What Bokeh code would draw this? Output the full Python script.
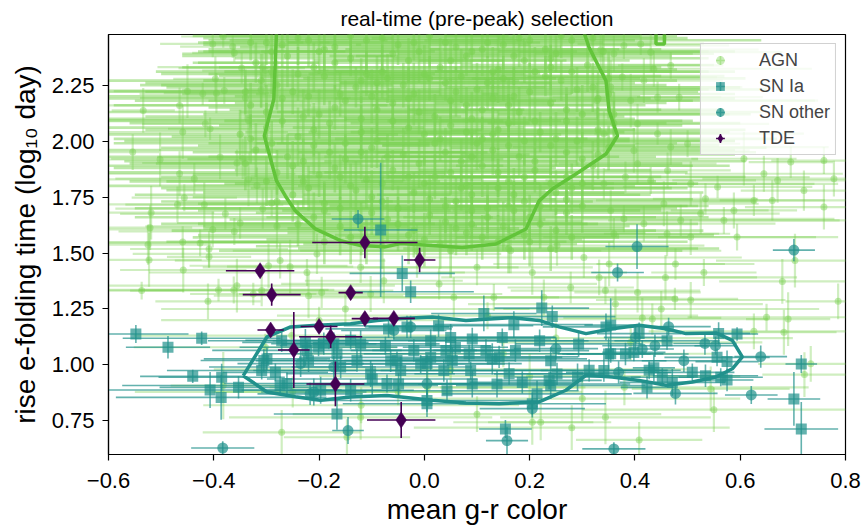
from bokeh.plotting import figure
from bokeh.models import (ColumnDataSource, FixedTicker, CustomJSTickFormatter,
                          Legend, LegendItem, Range1d)
from bokeh.embed import file_html
from bokeh.resources import INLINE

FONT = "Liberation Sans"
AGN_C = "#7ad151"
AGN_LINE_C = "#62c43a"
SN_C = "#21918c"
TDE_C = "#440154"

x_ticks = [-0.6, -0.4, -0.2, 0.0, 0.2, 0.4, 0.6, 0.8]
y_ticks = [0.75, 1.00, 1.25, 1.50, 1.75, 2.00, 2.25]

# ---------------- AGN: dense core ----------------
agn_core_x = [
    -0.30, -0.24, -0.17, -0.11, -0.05, 0.01, 0.06, 0.12, 0.18, 0.23, 0.28, -0.20, 0.09,
    -0.32, -0.26, -0.21, -0.14, -0.08, -0.03, 0.03, 0.08, 0.14, 0.19, 0.25, 0.31, -0.11, 0.21,
    -0.31, -0.25, -0.19, -0.13, -0.07, -0.02, 0.04, 0.10, 0.15, 0.20, 0.26, 0.32, -0.04, 0.07, -0.22,
    -0.33, -0.27, -0.20, -0.15, -0.09, -0.03, 0.02, 0.08, 0.13, 0.18, 0.24, 0.30, -0.12, 0.11, 0.33,
    -0.30, -0.24, -0.18, -0.12, -0.06, 0.00, 0.05, 0.11, 0.16, 0.22, 0.27, 0.33, -0.09, 0.19, -0.27,
    -0.32, -0.26, -0.21, -0.15, -0.10, -0.04, 0.02, 0.07, 0.13, 0.18, 0.24, 0.30, 0.35, -0.01, 0.10,
    -0.28, -0.23, -0.17, -0.11, -0.06, 0.00, 0.05, 0.11, 0.16, 0.21, 0.27, 0.32, -0.14, 0.08,
    -0.25, -0.19, -0.13, -0.08, -0.02, 0.04, 0.09, 0.14, 0.19, 0.25, 0.30, -0.05, 0.12,
    -0.21, -0.16, -0.10, -0.05, 0.01, 0.06, 0.12, 0.17, 0.22, 0.27, -0.02,
    -0.14, -0.08, -0.03, 0.03, 0.08, 0.14, 0.19, 0.24, 0.05,
    -0.27, -0.14, -0.02, 0.15, 0.26,
    -0.29, -0.17, -0.06, 0.05, 0.17, 0.28,
    -0.28, -0.16, -0.09, 0.01, 0.12, 0.23, 0.35,
    -0.30, -0.17, -0.06, 0.05, 0.16, 0.27,
    -0.33, -0.21, -0.03, 0.08, 0.14, 0.25, 0.36,
    -0.29, -0.18, -0.07, 0.04, 0.16, 0.21, 0.33,
    -0.25, -0.20, -0.08, 0.02, 0.14, 0.24,
    -0.22, -0.10, 0.01, 0.07, 0.17, 0.22, 0.28,
    -0.19, -0.07, 0.04, 0.09, 0.20,
    -0.11, 0.00, 0.11, 0.16,
    -0.22, -0.08, 0.04, 0.20, 0.32, -0.33,
    -0.29, -0.19, -0.01, 0.11, 0.24, 0.34,
    -0.24, -0.12, 0.00, 0.13, 0.24, 0.35,
    -0.34, -0.10, 0.06, 0.17, 0.29,
    -0.23, -0.01, 0.09, 0.21, 0.36,
    -0.35, -0.15, 0.03, 0.13, 0.29,
    -0.23, -0.12, 0.09, 0.27, -0.34,
    -0.30, -0.03, 0.19, 0.30, -0.16,
    -0.28, -0.16, 0.06, 0.16, 0.27,
    -0.24, -0.12, 0.15, 0.25, 0.09,
    -0.19, 0.20, 0.28,
]
agn_core_y = [
    2.44, 2.46, 2.42, 2.45, 2.43, 2.47, 2.42, 2.44, 2.46, 2.41, 2.45, 2.40, 2.40,
    2.35, 2.38, 2.33, 2.37, 2.31, 2.36, 2.33, 2.38, 2.32, 2.36, 2.39, 2.34, 2.30, 2.31,
    2.27, 2.22, 2.29, 2.24, 2.28, 2.21, 2.26, 2.23, 2.28, 2.22, 2.27, 2.24, 2.25, 2.29, 2.20,
    2.16, 2.19, 2.12, 2.18, 2.14, 2.19, 2.11, 2.16, 2.19, 2.13, 2.17, 2.12, 2.10, 2.14, 2.19,
    2.06, 2.02, 2.08, 2.04, 2.09, 2.03, 2.07, 2.01, 2.08, 2.04, 2.09, 2.05, 2.00, 2.00, 2.09,
    1.96, 1.93, 1.98, 1.92, 1.97, 1.94, 1.99, 1.91, 1.96, 1.93, 1.98, 1.92, 1.97, 1.90, 1.99,
    1.86, 1.82, 1.88, 1.83, 1.87, 1.81, 1.86, 1.89, 1.82, 1.87, 1.84, 1.89, 1.80, 1.80,
    1.76, 1.72, 1.78, 1.73, 1.77, 1.71, 1.76, 1.79, 1.73, 1.77, 1.71, 1.70, 1.70,
    1.66, 1.62, 1.68, 1.63, 1.67, 1.61, 1.66, 1.69, 1.63, 1.68, 1.60,
    1.57, 1.53, 1.58, 1.54, 1.59, 1.55, 1.58, 1.52, 1.51,
    2.43, 2.47, 2.44, 2.43, 2.47,
    2.31, 2.35, 2.39, 2.36, 2.38, 2.31,
    2.25, 2.21, 2.26, 2.28, 2.26, 2.29, 2.21,
    2.13, 2.15, 2.17, 2.18, 2.16, 2.14,
    2.01, 2.05, 2.06, 2.04, 2.05, 2.01, 2.08,
    1.99, 1.95, 1.93, 1.95, 1.98, 1.91, 1.94,
    1.89, 1.85, 1.81, 1.84, 1.86, 1.81,
    1.79, 1.75, 1.74, 1.79, 1.76, 1.71, 1.79,
    1.69, 1.65, 1.64, 1.69, 1.66,
    1.55, 1.56, 1.57, 1.52,
    2.45, 2.46, 2.44, 2.45, 2.46, 2.44,
    2.40, 2.41, 2.40, 2.41, 2.37, 2.40,
    2.30, 2.27, 2.30, 2.31, 2.33, 2.28,
    2.22, 2.20, 2.22, 2.20, 2.23,
    2.11, 2.13, 2.10, 2.09, 2.12,
    2.03, 1.99, 2.01, 2.03, 2.00,
    1.91, 1.95, 1.93, 1.95, 1.90,
    1.82, 1.84, 1.84, 1.81, 1.84,
    1.73, 1.70, 1.73, 1.71, 1.74,
    1.63, 1.61, 1.62, 1.60, 1.63,
    1.55, 1.55, 1.57,
]
agn_core_xerr = [
    0.12, 0.18, 0.18, 0.30, 0.25, 0.40, 0.20, 0.32, 0.28, 0.22, 0.36, 0.22, 0.50,
    0.12, 0.20, 0.25, 0.22, 0.30, 0.18, 0.42, 0.26, 0.34, 0.20, 0.30, 0.24, 0.30, 0.38,
    0.32, 0.28, 0.20, 0.36, 0.24, 0.30, 0.20, 0.44, 0.26, 0.32, 0.22, 0.28, 0.50, 0.38, 0.42,
    0.26, 0.34, 0.22, 0.40, 0.28, 0.20, 0.36, 0.24, 0.30, 0.46, 0.22, 0.32, 0.52, 0.34, 0.26,
    0.30, 0.24, 0.38, 0.22, 0.32, 0.26, 0.44, 0.20, 0.30, 0.36, 0.24, 0.28, 0.48, 0.40, 0.42,
    0.28, 0.36, 0.22, 0.30, 0.40, 0.24, 0.34, 0.22, 0.46, 0.26, 0.32, 0.22, 0.30, 0.50, 0.38,
    0.32, 0.26, 0.42, 0.22, 0.30, 0.36, 0.24, 0.40, 0.28, 0.22, 0.34, 0.26, 0.46, 0.32,
    0.30, 0.24, 0.36, 0.22, 0.40, 0.26, 0.32, 0.22, 0.44, 0.28, 0.24, 0.50, 0.36,
    0.34, 0.26, 0.22, 0.38, 0.24, 0.32, 0.42, 0.24, 0.30, 0.26, 0.46,
    0.30, 0.24, 0.40, 0.26, 0.34, 0.22, 0.36, 0.28, 0.44,
    0.15, 0.30, 0.24, 0.28, 0.22,
    0.22, 0.26, 0.40, 0.22, 0.30, 0.26,
    0.22, 0.30, 0.44, 0.24, 0.28, 0.34, 0.24,
    0.38, 0.24, 0.30, 0.46, 0.26, 0.30,
    0.26, 0.32, 0.22, 0.30, 0.26, 0.42, 0.24,
    0.30, 0.26, 0.34, 0.28, 0.24, 0.40, 0.26,
    0.40, 0.24, 0.30, 0.26, 0.36, 0.24,
    0.28, 0.34, 0.24, 0.40, 0.26, 0.30, 0.22,
    0.24, 0.30, 0.26, 0.36, 0.24,
    0.38, 0.30, 0.26, 0.40,
    0.15, 0.25, 0.30, 0.20, 0.18, 0.10,
    0.14, 0.22, 0.30, 0.26, 0.30, 0.20,
    0.26, 0.30, 0.22, 0.34, 0.20, 0.26,
    0.28, 0.26, 0.30, 0.24, 0.36,
    0.30, 0.34, 0.24, 0.28, 0.22,
    0.30, 0.26, 0.36, 0.22, 0.30,
    0.34, 0.24, 0.28, 0.36, 0.22,
    0.26, 0.30, 0.26, 0.22, 0.34,
    0.22, 0.30, 0.26, 0.34, 0.24,
    0.26, 0.30, 0.24, 0.28, 0.22,
    0.24, 0.30, 0.22,
]
agn_core_yerr = [
    0.10, 0.12, 0.08, 0.15, 0.09, 0.14, 0.11, 0.07, 0.13, 0.10, 0.12, 0.10, 0.09,
    0.09, 0.14, 0.11, 0.08, 0.12, 0.10, 0.13, 0.09, 0.15, 0.10, 0.08, 0.12, 0.10, 0.11,
    0.12, 0.10, 0.13, 0.09, 0.11, 0.14, 0.08, 0.12, 0.10, 0.13, 0.09, 0.11, 0.10, 0.12, 0.09,
    0.10, 0.13, 0.11, 0.09, 0.12, 0.14, 0.10, 0.08, 0.12, 0.11, 0.10, 0.13, 0.10, 0.09, 0.12,
    0.11, 0.13, 0.10, 0.12, 0.09, 0.14, 0.11, 0.10, 0.13, 0.09, 0.12, 0.10, 0.12, 0.11, 0.10,
    0.12, 0.10, 0.13, 0.11, 0.09, 0.12, 0.14, 0.10, 0.11, 0.09, 0.13, 0.12, 0.10, 0.11, 0.12,
    0.10, 0.12, 0.11, 0.13, 0.09, 0.12, 0.10, 0.14, 0.11, 0.10, 0.12, 0.11, 0.10, 0.12,
    0.12, 0.10, 0.13, 0.11, 0.09, 0.12, 0.10, 0.13, 0.11, 0.10, 0.12, 0.10, 0.11,
    0.11, 0.13, 0.10, 0.12, 0.09, 0.12, 0.10, 0.13, 0.11, 0.10, 0.12,
    0.12, 0.10, 0.13, 0.11, 0.10, 0.12, 0.11, 0.10, 0.12,
    0.10, 0.12, 0.08, 0.11, 0.10,
    0.10, 0.12, 0.11, 0.09, 0.13, 0.10,
    0.11, 0.10, 0.12, 0.10, 0.12, 0.09, 0.11,
    0.12, 0.10, 0.11, 0.10, 0.12, 0.10,
    0.11, 0.12, 0.10, 0.12, 0.09, 0.12, 0.10,
    0.10, 0.12, 0.10, 0.11, 0.13, 0.10, 0.11,
    0.11, 0.10, 0.12, 0.10, 0.11, 0.12,
    0.10, 0.12, 0.11, 0.10, 0.12, 0.10, 0.11,
    0.12, 0.10, 0.11, 0.12, 0.10,
    0.10, 0.12, 0.10, 0.11,
    0.12, 0.15, 0.10, 0.12, 0.10, 0.08,
    0.12, 0.10, 0.14, 0.12, 0.10, 0.12,
    0.12, 0.10, 0.13, 0.11, 0.10, 0.12,
    0.10, 0.12, 0.11, 0.13, 0.10,
    0.12, 0.10, 0.12, 0.11, 0.10,
    0.11, 0.12, 0.10, 0.12, 0.11,
    0.10, 0.12, 0.11, 0.10, 0.12,
    0.11, 0.12, 0.10, 0.11, 0.10,
    0.12, 0.10, 0.11, 0.12, 0.10,
    0.10, 0.12, 0.11, 0.10, 0.12,
    0.10, 0.11, 0.10,
]

# ---------------- AGN: sparse left side ----------------
agn_left_x = [-0.382, -0.402, -0.364, -0.361, -0.347, -0.307, -0.302, -0.397, -0.450, -0.421,
              -0.395, -0.380, -0.340, -0.310, -0.534, -0.465, -0.416, -0.407, -0.459, -0.334,
              -0.554, -0.502, -0.388, -0.356, -0.345, -0.465, -0.437, -0.334, -0.318, -0.456,
              -0.469, -0.418, -0.378, -0.519, -0.307, -0.290, -0.521, -0.402, -0.361, -0.350,
              -0.280, -0.459, -0.525, -0.523, -0.426, -0.409, -0.409, -0.458, -0.537, -0.411,
              -0.391, -0.362, -0.356, -0.325, -0.309, -0.296, -0.274, -0.255, -0.223, -0.220,
              -0.195, -0.204, -0.382, -0.271, -0.147, -0.302, -0.252]
agn_left_y = [2.467, 2.434, 2.422, 2.394, 2.326, 2.330, 2.315, 2.278, 2.223, 2.211,
              2.214, 2.226, 2.193, 2.229, 2.137, 2.159, 2.077, 2.055, 2.040, 2.092,
              1.951, 1.918, 1.929, 1.902, 1.921, 1.854, 1.832, 1.829, 1.802, 1.747,
              1.717, 1.716, 1.675, 1.680, 1.698, 1.723, 1.613, 1.605, 1.596, 1.634,
              1.619, 1.549, 1.537, 1.469, 1.545, 1.518, 1.483, 1.424, 1.332, 1.284,
              1.335, 1.335, 1.354, 1.317, 1.332, 1.443, 1.466, 1.439, 1.413, 1.309,
              1.324, 1.496, 0.908, 0.699, 0.677, 1.079, 1.131]
agn_left_xerr = [0.08, 0.10, 0.10, 0.08, 0.12, 0.20, 0.12, 0.08, 0.14, 0.12,
                 0.10, 0.22, 0.20, 0.15, 0.06, 0.25, 0.12, 0.08, 0.20, 0.35,
                 0.05, 0.20, 0.12, 0.18, 0.25, 0.22, 0.15, 0.30, 0.12, 0.10,
                 0.35, 0.15, 0.20, 0.12, 0.28, 0.18, 0.08, 0.30, 0.22, 0.12,
                 0.25, 0.18, 0.12, 0.10, 0.22, 0.15, 0.08, 0.12, 0.08, 0.10,
                 0.22, 0.18, 0.30, 0.12, 0.25, 0.15, 0.20, 0.12, 0.30, 0.18,
                 0.12, 0.35, 0.10, 0.15, 0.12, 0.25, 0.30]
agn_left_yerr = [0.05, 0.06, 0.05, 0.04, 0.07, 0.06, 0.08, 0.10, 0.12, 0.05,
                 0.09, 0.06, 0.10, 0.08, 0.10, 0.08, 0.06, 0.05, 0.12, 0.07,
                 0.08, 0.12, 0.10, 0.06, 0.09, 0.10, 0.07, 0.12, 0.08, 0.06,
                 0.08, 0.10, 0.07, 0.12, 0.09, 0.06, 0.10, 0.08, 0.06, 0.07,
                 0.10, 0.07, 0.09, 0.12, 0.06, 0.08, 0.05, 0.10, 0.04, 0.08,
                 0.05, 0.06, 0.12, 0.05, 0.07, 0.10, 0.08, 0.12, 0.06, 0.10,
                 0.07, 0.09, 0.15, 0.10, 0.08, 0.06, 0.07]

# ---------------- AGN: sparse right side ----------------
agn_right_x = [0.335, 0.360, 0.379, 0.411, 0.430, 0.468, 0.436, 0.417, 0.484, 0.443,
               0.392, 0.376, 0.405, 0.443, 0.468, 0.500, 0.398, 0.382, 0.405, 0.430,
               0.462, 0.506, 0.534, 0.557, 0.607, 0.645, 0.671, 0.696, 0.721, 0.759,
               0.778, 0.759, 0.626, 0.588, 0.569, 0.525, 0.487, 0.455, 0.417, 0.379,
               0.354, 0.360, 0.461, 0.506, 0.594, 0.661, 0.341, 0.328, 0.354, 0.341,
               0.351, 0.332, 0.344, 0.405, 0.477, 0.458, 0.531, 0.506, 0.476, 0.680,
               0.704, 0.786, 0.691, 0.650, 0.683, 0.626, 0.433, 0.414, 0.392, 0.544,
               0.344, 0.408, 0.722, 0.734, 0.363]
agn_right_y = [2.408, 2.390, 2.427, 2.434, 2.397, 2.338, 2.323, 2.270, 2.196, 2.196,
               2.181, 2.286, 2.077, 2.033, 1.973, 1.988, 1.958, 1.839, 1.899, 1.824,
               1.869, 1.809, 1.742, 1.795, 1.921, 1.854, 1.824, 1.906, 1.779, 1.913,
               1.832, 1.705, 1.735, 1.690, 1.646, 1.676, 1.646, 1.720, 1.631, 1.653,
               1.690, 1.586, 1.586, 1.571, 1.571, 1.735, 2.033, 2.181, 2.241, 1.809,
               1.451, 1.391, 1.332, 1.324, 1.451, 1.391, 1.413, 1.290, 1.295, 1.373,
               1.466, 1.284, 1.205, 1.213, 1.146, 1.150, 1.205, 1.210, 1.101, 0.893,
               0.766, 0.665, 0.957, 1.005, 1.272]
agn_right_xerr = [0.30, 0.15, 0.20, 0.12, 0.25, 0.10, 0.30, 0.15, 0.08, 0.20,
                  0.35, 0.18, 0.25, 0.12, 0.30, 0.10, 0.22, 0.35, 0.15, 0.20,
                  0.12, 0.28, 0.10, 0.18, 0.10, 0.15, 0.20, 0.08, 0.12, 0.10,
                  0.25, 0.15, 0.30, 0.12, 0.22, 0.15, 0.35, 0.18, 0.25, 0.40,
                  0.30, 0.20, 0.12, 0.28, 0.15, 0.10, 0.38, 0.42, 0.25, 0.40,
                  0.22, 0.30, 0.18, 0.12, 0.15, 0.25, 0.10, 0.18, 0.12, 0.12,
                  0.15, 0.10, 0.08, 0.15, 0.10, 0.20, 0.22, 0.15, 0.25, 0.15,
                  0.20, 0.12, 0.08, 0.10, 0.28]
agn_right_yerr = [0.10, 0.08, 0.06, 0.05, 0.09, 0.06, 0.08, 0.10, 0.06, 0.07,
                  0.12, 0.06, 0.09, 0.05, 0.08, 0.06, 0.10, 0.07, 0.09, 0.06,
                  0.08, 0.10, 0.07, 0.05, 0.12, 0.08, 0.10, 0.07, 0.09, 0.06,
                  0.08, 0.10, 0.07, 0.08, 0.06, 0.09, 0.07, 0.10, 0.08, 0.06,
                  0.09, 0.07, 0.10, 0.08, 0.06, 0.09, 0.10, 0.08, 0.12, 0.07,
                  0.10, 0.08, 0.06, 0.09, 0.07, 0.10, 0.06, 0.08, 0.05, 0.10,
                  0.12, 0.08, 0.12, 0.06, 0.10, 0.08, 0.07, 0.09, 0.08, 0.10,
                  0.12, 0.08, 0.10, 0.08, 0.07]

# ---------------- AGN: below the core / among the SNe ----------------
agn_low_x = [-0.102, -0.077, 0.028, 0.056, 0.132, 0.205, 0.227, 0.278, 0.303, 0.164,
             0.100, -0.014, 0.252, -0.121, 0.205, 0.221, 0.006, -0.121,
             0.05, 0.15, -0.05, 0.25, 0.30, 0.10, -0.20, 0.45, 0.20, -0.12,
             0.55, 0.28, -0.15, 0.12, 0.38, -0.25]
agn_low_y = [1.317, 1.376, 1.362, 1.302, 1.302, 1.413, 1.302, 1.346, 1.480, 1.510,
             1.436, 1.510, 1.533, 1.436, 0.744, 0.744, 0.900, 0.766,
             0.98, 1.05, 0.88, 1.12, 0.85, 0.78, 1.20, 1.25, 0.95, 0.82,
             0.80, 0.72, 1.25, 1.22, 0.90, 0.88]
agn_low_xerr = [0.25, 0.15, 0.30, 0.20, 0.35, 0.18, 0.25, 0.12, 0.30, 0.40,
                0.22, 0.35, 0.28, 0.30, 0.15, 0.10, 0.30, 0.25,
                0.45, 0.40, 0.35, 0.45, 0.30, 0.35, 0.30, 0.30, 0.40, 0.30,
                0.25, 0.30, 0.35, 0.40, 0.35, 0.30]
agn_low_yerr = [0.08, 0.10, 0.07, 0.09, 0.06, 0.10, 0.08, 0.07, 0.09, 0.10,
                0.08, 0.12, 0.09, 0.07, 0.10, 0.08, 0.09, 0.10,
                0.08, 0.06, 0.06, 0.07, 0.10, 0.08, 0.06, 0.08, 0.10, 0.08,
                0.10, 0.10, 0.07, 0.06, 0.08, 0.07]

# ---------------- SN Ia ----------------
snia_x = [-0.548, -0.487, -0.423, -0.440, -0.385, -0.407, -0.386, -0.353, -0.309, -0.299,
          -0.283, -0.271, -0.274, -0.226, -0.220, -0.201, -0.166, -0.083, -0.042, -0.026,
          0.113, 0.223, 0.243, 0.170, 0.027, -0.068, 0.050, 0.091, 0.148, 0.219,
          0.293, 0.012, -0.121, -0.074, -0.064, 0.012, 0.059, 0.129, 0.173, 0.240,
          0.252, -0.007, -0.045, 0.037, 0.088, 0.138, 0.186, 0.240, 0.043, -0.099,
          -0.049, 0.091, 0.005, 0.154, 0.214, 0.354, 0.594, 0.559, 0.461, 0.350,
          0.382, 0.398, 0.556, 0.575, 0.436, 0.509, 0.534, 0.341, 0.452, 0.471,
          0.423, 0.563, 0.575, 0.716, 0.702, 0.716, -0.261, -0.223, -0.191, -0.166,
          -0.140, -0.128, -0.102, -0.052, -0.033, -0.020, 0.005, -0.159, -0.197, -0.140,
          -0.071, 0.005, -0.172, 0.345, 0.408, 0.354, 0.313, 0.427, 0.291, 0.205,
          0.237, 0.161, 0.053, 0.142, 0.085, 0.117, 0.041, -0.305]
snia_y = [1.138, 1.079, 1.119, 0.949, 0.945, 0.888, 0.855, 0.900, 0.975, 1.027,
          0.967, 1.108, 0.908, 1.101, 1.019, 1.079, 0.781, 1.603, 1.409, 1.327,
          1.230, 1.254, 1.216, 1.180, 1.175, 1.161, 1.123, 1.116, 1.123, 1.108,
          1.094, 1.108, 1.094, 1.086, 1.019, 1.034, 1.079, 1.027, 1.064, 1.019,
          0.960, 1.004, 0.975, 0.975, 0.975, 0.915, 0.922, 0.908, 0.885, 0.937,
          0.915, 0.915, 0.841, 0.714, 0.871, 1.178, 1.138, 1.141, 1.108, 1.049,
          1.049, 1.056, 1.034, 1.015, 0.987, 0.967, 0.952, 0.975, 0.945, 0.922,
          0.900, 0.945, 0.933, 1.004, 0.848, 0.714, 0.917, 1.065, 1.095, 1.050,
          1.110, 1.020, 0.961, 1.020, 1.170, 1.065, 1.006, 0.991, 0.887, 0.887,
          0.917, 0.827, 1.095, 1.170, 1.140, 1.050, 0.976, 0.976, 0.946, 0.827,
          0.931, 0.961, 1.020, 1.036, 1.050, 1.065, 1.065, 1.020]
snia_xerr = [0.10, 0.08, 0.15, 0.10, 0.12, 0.25, 0.20, 0.15, 0.18, 0.12,
             0.10, 0.14, 0.30, 0.12, 0.10, 0.15, 0.12, 0.07, 0.10, 0.12,
             0.10, 0.09, 0.12, 0.15, 0.18, 0.12, 0.20, 0.15, 0.10, 0.25,
             0.12, 0.30, 0.15, 0.20, 0.12, 0.25, 0.10, 0.18, 0.14, 0.22,
             0.12, 0.16, 0.28, 0.12, 0.20, 0.15, 0.10, 0.18, 0.25, 0.20,
             0.14, 0.30, 0.22, 0.05, 0.18, 0.05, 0.04, 0.06, 0.10, 0.08,
             0.12, 0.06, 0.10, 0.06, 0.04, 0.08, 0.10, 0.12, 0.06, 0.10,
             0.05, 0.08, 0.05, 0.03, 0.05, 0.07, 0.12, 0.18, 0.10, 0.14,
             0.20, 0.12, 0.16, 0.10, 0.08, 0.12, 0.18, 0.25, 0.15, 0.12,
             0.20, 0.16, 0.10, 0.12, 0.08, 0.10, 0.15, 0.06, 0.12, 0.14,
             0.10, 0.18, 0.12, 0.15, 0.20, 0.10, 0.14, 0.12]
snia_yerr = [0.04, 0.05, 0.03, 0.03, 0.06, 0.08, 0.10, 0.05, 0.04, 0.05,
             0.04, 0.05, 0.04, 0.06, 0.05, 0.04, 0.07, 0.30, 0.08, 0.05,
             0.08, 0.08, 0.05, 0.06, 0.05, 0.04, 0.06, 0.05, 0.04, 0.05,
             0.06, 0.05, 0.06, 0.04, 0.05, 0.06, 0.04, 0.07, 0.05, 0.06,
             0.05, 0.04, 0.06, 0.05, 0.04, 0.06, 0.05, 0.06, 0.05, 0.07,
             0.05, 0.06, 0.05, 0.04, 0.06, 0.12, 0.03, 0.05, 0.04, 0.07,
             0.05, 0.04, 0.04, 0.05, 0.06, 0.04, 0.05, 0.05, 0.04, 0.06,
             0.05, 0.04, 0.05, 0.04, 0.12, 0.12, 0.05, 0.04, 0.05, 0.06,
             0.04, 0.05, 0.06, 0.04, 0.05, 0.05, 0.04, 0.05, 0.06, 0.05,
             0.04, 0.06, 0.05, 0.06, 0.05, 0.04, 0.05, 0.04, 0.06, 0.05,
             0.04, 0.05, 0.06, 0.05, 0.04, 0.05, 0.06, 0.05]

# ---------------- SN other ----------------
snoth_x = [-0.126, -0.383, -0.145, -0.217, 0.157, 0.404, 0.367, 0.702, 0.464, 0.533,
           0.553, 0.438, 0.401, 0.493, 0.639, 0.621, 0.477, 0.360, 0.369, 0.414,
           0.250, 0.205, -0.235, -0.172, -0.058, -0.026, 0.005, -0.210]
snoth_y = [1.652, 0.629, 0.707, 0.871, 0.662, 1.529, 1.413, 1.513, 1.171, 1.096,
           1.086, 1.086, 1.123, 1.019, 1.037, 0.866, 0.873, 0.625, 0.967, 1.071,
           1.073, 0.805, 1.006, 0.991, 1.154, 1.170, 0.917, 0.879]
snoth_xerr = [0.05, 0.06, 0.03, 0.10, 0.04, 0.06, 0.05, 0.04, 0.08, 0.06,
              0.04, 0.10, 0.06, 0.08, 0.05, 0.05, 0.08, 0.06, 0.10, 0.06,
              0.08, 0.10, 0.12, 0.08, 0.10, 0.08, 0.12, 0.10]
snoth_yerr = [0.04, 0.03, 0.06, 0.05, 0.06, 0.10, 0.04, 0.05, 0.04, 0.05,
              0.04, 0.05, 0.06, 0.05, 0.05, 0.04, 0.05, 0.03, 0.05, 0.04,
              0.05, 0.04, 0.06, 0.05, 0.04, 0.05, 0.05, 0.06]

# ---------------- TDE ----------------
tde_x = [-0.113, -0.009, -0.312, -0.290, -0.140, -0.113, -0.058, -0.292, -0.200, -0.178,
         -0.248, -0.169, -0.044]
tde_y = [1.547, 1.469, 1.421, 1.314, 1.323, 1.207, 1.208, 1.156, 1.172, 1.126,
         1.067, 0.915, 0.754]
tde_xerr = [0.10, 0.03, 0.065, 0.055, 0.023, 0.025, 0.04, 0.025, 0.035, 0.06,
            0.03, 0.055, 0.065]
tde_yerr = [0.07, 0.055, 0.02, 0.05, 0.02, 0.02, 0.02, 0.02, 0.02, 0.05,
            0.17, 0.10, 0.08]

# ---------------- density contours ----------------
agn_contour_x = [-0.281, -0.286, -0.304, -0.281, -0.264, -0.245, -0.207, -0.159, -0.121, -0.074,
                 -0.045, 0.015, 0.072, 0.136, 0.193, 0.218, 0.243, 0.288, 0.345, 0.367,
                 0.351, 0.345, 0.313, 0.304]
agn_contour_y = [2.480, 2.187, 2.024, 1.823, 1.755, 1.688, 1.608, 1.555, 1.533, 1.528,
                 1.542, 1.533, 1.525, 1.540, 1.607, 1.733, 1.786, 1.853, 1.942, 2.024,
                 2.135, 2.269, 2.418, 2.480]
agn_contour2_x = [0.440, 0.440, 0.456, 0.456]
agn_contour2_y = [2.480, 2.434, 2.434, 2.480]
sn_contour_x = [-0.344, -0.299, -0.254, -0.204, -0.140, -0.090, -0.045, 0.015, 0.079, 0.167,
                0.218, 0.256, 0.307, 0.357, 0.408, 0.459, 0.497, 0.554, 0.585, 0.604,
                0.585, 0.554, 0.509, 0.459, 0.408, 0.357, 0.307, 0.269, 0.218, 0.142,
                0.079, 0.015, -0.071, -0.140, -0.197, -0.245, -0.299, -0.344]
sn_contour_y = [0.952, 1.125, 1.170, 1.177, 1.184, 1.199, 1.207, 1.214, 1.199, 1.211,
                1.199, 1.170, 1.140, 1.162, 1.177, 1.162, 1.140, 1.143, 1.110, 1.036,
                0.983, 0.946, 0.924, 0.909, 0.931, 0.946, 0.954, 0.887, 0.835, 0.827,
                0.830, 0.842, 0.864, 0.857, 0.842, 0.858, 0.879, 0.952]


def make_source(xs, ys, xe, ye):
    n = min(len(xs), len(ys), len(xe), len(ye))
    xs, ys, xe, ye = xs[:n], ys[:n], xe[:n], ye[:n]
    return ColumnDataSource(dict(
        x=xs, y=ys,
        xl=[a - b for a, b in zip(xs, xe)], xr=[a + b for a, b in zip(xs, xe)],
        yl=[a - b for a, b in zip(ys, ye)], yh=[a + b for a, b in zip(ys, ye)],
    ))


p = figure(width=864, height=527, x_range=Range1d(-0.6, 0.8), y_range=Range1d(0.6, 2.476),
           output_backend="svg", toolbar_location=None,
           min_border_left=108, min_border_right=19, min_border_top=33, min_border_bottom=73,
           title="real-time (pre-peak) selection")
p.title.align = "center"
p.title.text_font = FONT
p.title.text_font_size = "21px"
p.title.text_font_style = "normal"
p.title.text_color = "black"
p.title.standoff = 9
p.xgrid.visible = False
p.ygrid.visible = False
p.outline_line_color = "black"
p.outline_line_width = 1.2
p.outline_line_alpha = 1.0
p.background_fill_color = "white"
p.border_fill_color = "white"


def draw_err(src, color, alpha, lw):
    p.segment(x0="xl", y0="y", x1="xr", y1="y", source=src, line_color=color,
              line_alpha=alpha, line_width=lw)
    p.segment(x0="x", y0="yl", x1="x", y1="yh", source=src, line_color=color,
              line_alpha=alpha, line_width=lw)


core_src = make_source(agn_core_x, agn_core_y, agn_core_xerr, agn_core_yerr)
outer_srcs = [make_source(agn_left_x, agn_left_y, agn_left_xerr, agn_left_yerr),
              make_source(agn_right_x, agn_right_y, agn_right_xerr, agn_right_yerr),
              make_source(agn_low_x, agn_low_y, agn_low_xerr, agn_low_yerr)]
for s in outer_srcs:
    draw_err(s, AGN_C, 0.36, 2.2)
draw_err(core_src, AGN_C, 0.5, 2.6)
for s in outer_srcs:
    p.scatter("x", "y", source=s, marker="circle", size=7, fill_color=AGN_C,
              fill_alpha=0.45, line_color=None)
p.scatter("x", "y", source=core_src, marker="circle", size=7, fill_color=AGN_C,
          fill_alpha=0.55, line_color=None)

snia_src = make_source(snia_x, snia_y, snia_xerr, snia_yerr)
draw_err(snia_src, SN_C, 0.7, 1.6)
p.scatter("x", "y", source=snia_src, marker="square", size=11, fill_color=SN_C,
          fill_alpha=0.7, line_color=None)

snoth_src = make_source(snoth_x, snoth_y, snoth_xerr, snoth_yerr)
draw_err(snoth_src, SN_C, 0.7, 1.6)
p.scatter("x", "y", source=snoth_src, marker="circle", size=11, fill_color=SN_C,
          fill_alpha=0.7, line_color=None)

p.line(agn_contour_x, agn_contour_y, line_color=AGN_LINE_C, line_width=3.5)
p.line(agn_contour2_x, agn_contour2_y, line_color=AGN_LINE_C, line_width=3.5)
p.line(sn_contour_x, sn_contour_y, line_color=SN_C, line_width=3.5)

tde_src = make_source(tde_x, tde_y, tde_xerr, tde_yerr)
draw_err(tde_src, TDE_C, 1.0, 1.6)
p.scatter("x", "y", source=tde_src, marker="diamond", size=16, fill_color=TDE_C,
          line_color=TDE_C, line_width=0.5)

# legend-only renderers (placed outside the visible ranges)
leg_src = ColumnDataSource(dict(x=[-10.0], y=[-10.0]))


def legend_pair(marker, color, alpha):
    rc = p.scatter("x", "y", source=leg_src, marker="cross", size=10, line_color=color,
                   line_alpha=alpha, line_width=1.6)
    rm = p.scatter("x", "y", source=leg_src, marker=marker, size=10, fill_color=color,
                   fill_alpha=alpha, line_color=None)
    return [rm, rc]


legend = Legend(items=[
    LegendItem(label="AGN", renderers=legend_pair("circle", AGN_C, 0.4)),
    LegendItem(label="SN Ia", renderers=legend_pair("square", SN_C, 0.7)),
    LegendItem(label="SN other", renderers=legend_pair("circle", SN_C, 0.7)),
    LegendItem(label="TDE", renderers=legend_pair("diamond", TDE_C, 1.0)),
], location="top_right")
legend.label_text_font = FONT
legend.label_text_font_size = "18px"
legend.glyph_width = 28
legend.glyph_height = 22
legend.label_height = 22
legend.spacing = 4
legend.padding = 5
legend.label_standoff = 25
legend.margin = 9
legend.border_line_color = "#cccccc"
legend.border_line_alpha = 0.9
legend.border_line_width = 1
legend.background_fill_color = "white"
legend.background_fill_alpha = 0.8
p.add_layout(legend)

# axes
p.xaxis.ticker = FixedTicker(ticks=x_ticks)
p.yaxis.ticker = FixedTicker(ticks=y_ticks)
p.xaxis.formatter = CustomJSTickFormatter(
    code="return (tick < -1e-9 ? '\\u2212' : '') + Math.abs(tick).toFixed(1);")
p.yaxis.formatter = CustomJSTickFormatter(code="return tick.toFixed(2);")
p.xaxis.axis_label = "mean g-r color"
p.yaxis.axis_label = "rise e-folding time (log\u2081\u2080 day)"
for ax in (p.xaxis[0], p.yaxis[0]):
    ax.axis_line_color = "black"
    ax.axis_line_width = 1.2
    ax.major_tick_line_color = "black"
    ax.major_tick_line_width = 1.2
    ax.major_tick_out = 6
    ax.major_tick_in = 0
    ax.minor_tick_out = 0
    ax.minor_tick_in = 0
    ax.major_label_text_font = FONT
    ax.major_label_text_font_size = "22px"
    ax.major_label_text_color = "black"
    ax.axis_label_text_font = FONT
    ax.axis_label_text_font_size = "28px"
    ax.axis_label_text_font_style = "normal"
    ax.axis_label_text_color = "black"
p.xaxis.major_label_standoff = 12
p.xaxis.axis_label_standoff = 3
p.yaxis.major_label_standoff = 8
p.yaxis.axis_label_standoff = 8

open("out.html", "w").write(file_html(p, INLINE))
